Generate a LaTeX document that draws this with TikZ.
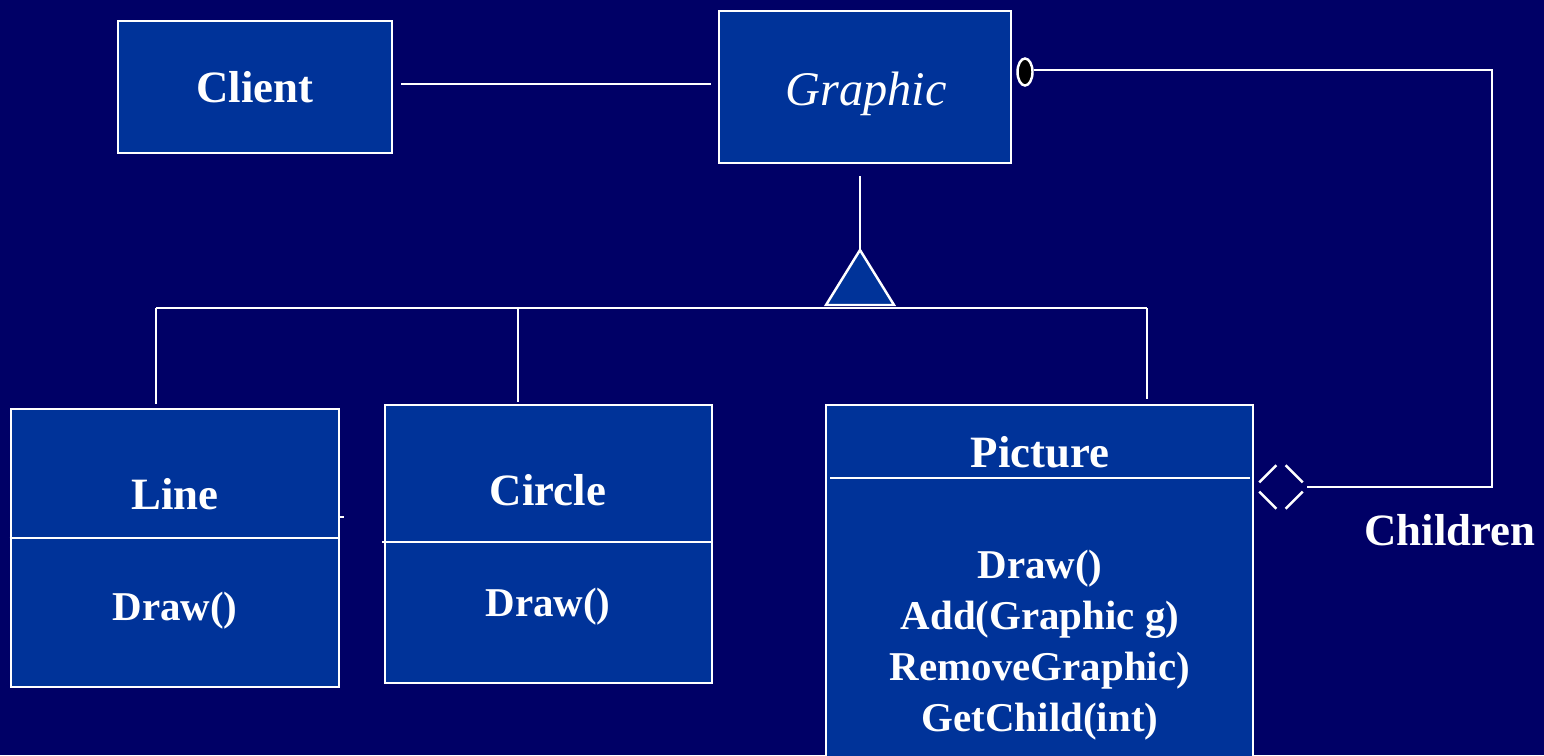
\documentclass[tikz,border=0pt]{standalone}
\usepackage{fontspec}
\setmainfont{Liberation Serif}
\usepackage{xcolor}
\definecolor{bgnavy}{HTML}{000066}
\definecolor{boxblue}{HTML}{003399}
\usetikzlibrary{shapes.geometric}

\begin{document}
\begin{tikzpicture}[
    x=0.02cm, y=-0.02cm,
    every node/.style={text=white},
    cls/.style={draw=white, line width=1.6pt, fill=boxblue, inner sep=0pt},
    conn/.style={draw=white, line width=1.4pt},
    ttl/.style={font=\fontsize{25.5}{30}\selectfont\bfseries},
    ops/.style={font=\fontsize{23.3}{29}\selectfont\bfseries, align=center},
  ]
    % 背景
    \useasboundingbox (0,0) rectangle (1544,755);
    \fill[bgnavy] (0,0) rectangle (1544,755);
    \clip (0,0) rectangle (1544,755);

    % 顶行
    \node[cls, ttl, minimum width=5.48cm, minimum height=2.64cm] (client) at (255,87) {Client};
    \node[cls, minimum width=5.84cm, minimum height=3.04cm] (graphic) at (865,87) {};
    \node[font=\fontsize{27.5}{32}\selectfont\itshape] (graphicname) at (866,94) {Graphic};

    % 子类
    \node[cls, minimum width=6.56cm, minimum height=5.56cm] (line)    at (175,548)    {};
    \node[cls, minimum width=6.54cm, minimum height=5.56cm] (circle)  at (548.5,544)  {};
    \node[cls, minimum width=8.54cm, minimum height=7.4cm]  (picture) at (1039.5,590) {};

    \node[ttl] (linettl)    at (175,494)  {Line};
    \node[ops] (lineops)    at (175,611)  {Draw()};
    \node[ttl] (circlettl)  at (548,490)  {Circle};
    \node[ops] (circleops)  at (548,607)  {Draw()};
    \node[ttl] (picturettl) at (1040,452) {Picture};
    \node[ops] (pictureops) at (1040,645) {Draw()\\Add(Graphic g)\\RemoveGraphic)\\GetChild(int)};
    \node[ttl] (children)   at (1450,530) {Children};

    % 分隔线
    \draw[conn] (line.west |- 0,538) -- (line.east |- 0,538);
    \draw[conn] (382,542) -- (circle.east |- 0,542);
    \draw[conn] (830,478) -- (1250,478);
    \draw[conn] (line.east |- 0,517) -- ++(4,0);

    % 关联
    \draw[conn, shorten <=0.16cm, shorten >=0.14cm] (client.east |- 0,84) -- (graphic.west |- 0,84);

    % 继承
    \coordinate (apex) at (860,250);
    \coordinate (busL) at (156,308);
    \coordinate (busC) at (518,308);
    \coordinate (busR) at (1147,308);
    \draw[conn, shorten <=0.24cm] (graphic.south -| apex) -- (apex);
    \draw[conn] (busL) -- (busR);
    \draw[conn, fill=boxblue] (apex) -- (826,305) -- (894,305) -- cycle;
    \draw[conn, shorten >=0.08cm] (busL) -- (line.north -| busL);
    \draw[conn, shorten >=0.04cm] (busC) -- (circle.north -| busC);
    \draw[conn, shorten >=0.1cm]  (busR) -- (picture.north -| busR);

    % 聚合
    \node[ellipse, draw=white, line width=1.4pt, fill=black, inner sep=0pt,
          minimum width=0.3cm, minimum height=0.54cm] (lolli) at (1025,72) {};
    \node[diamond, inner sep=0pt, minimum width=1.04cm, minimum height=1.04cm] (agg) at (1281,487) {};
    \foreach \a/\b in {north/east, east/south, south/west, west/north}
      \draw[conn, shorten <=0.13cm, shorten >=0.13cm] (agg.\a) -- (agg.\b);
    \coordinate (cornerA) at (1492,70);
    \coordinate (cornerB) at (1492,487);
    \draw[conn] (lolli.east |- cornerA) -- (cornerA) -- (cornerB) -- (agg.east);
  \end{tikzpicture}
\end{document}
